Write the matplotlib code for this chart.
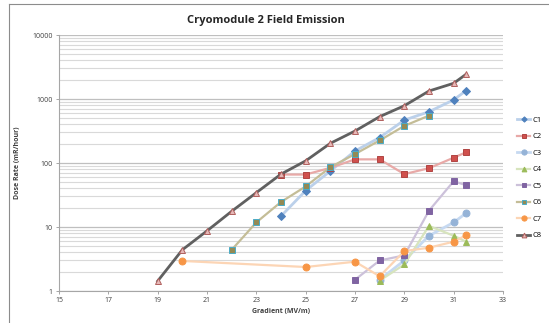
import matplotlib
matplotlib.use("Agg")
import matplotlib.pyplot as plt
from matplotlib.ticker import LogLocator, NullFormatter, FixedLocator

plt.rcParams['font.family'] = ['Open Sans', 'DejaVu Sans']

# gradient (MV/m) and dose rate (mR/hour) for each cavity
x_c1 = [24, 25, 26, 27, 28, 29, 30, 31, 31.5]
y_c1 = [14.8, 37, 75, 154, 250, 468, 633, 970, 1350]
x_c2 = [24, 25, 26, 27, 28, 29, 30, 31, 31.5]
y_c2 = [66, 66, 84, 114, 114, 67, 83, 121, 147]
x_c3 = [28, 29, 30, 31, 31.5]
y_c3 = [1.5, 3.0, 7.3, 11.8, 16.4]
x_c4 = [28, 29, 30, 31, 31.5]
y_c4 = [1.45, 2.6, 10.4, 7.3, 5.9]
x_c5 = [27, 28, 29, 30, 31, 31.5]
y_c5 = [1.5, 3.0, 3.6, 18, 52, 45]
x_c6 = [22, 23, 24, 25, 26, 27, 28, 29, 30]
y_c6 = [4.4, 11.8, 24.6, 43, 86, 138, 225, 380, 550]
x_c7 = [20, 25, 27, 28, 29, 30, 31, 31.5]
y_c7 = [2.95, 2.37, 2.87, 1.7, 4.2, 4.75, 5.9, 7.4]
x_c8 = [19, 20, 21, 22, 23, 24, 25, 26, 27, 28, 29, 30, 31, 31.5]
y_c8 = [1.43, 4.4, 8.7, 17.6, 34.4, 67, 108, 203, 316, 530, 785, 1333, 1760, 2430]

names = ["C1", "C2", "C3", "C4", "C5", "C6", "C7", "C8"]
xs = [x_c1, x_c2, x_c3, x_c4, x_c5, x_c6, x_c7, x_c8]
ys = [y_c1, y_c2, y_c3, y_c4, y_c5, y_c6, y_c7, y_c8]

# (line colour, marker, marker face, marker edge, line width)
styles = [
    ("#BBD0EA", "D", "#4F81BD", "#4F81BD", 2.0),
    ("#E8A9A7", "s", "#D0504D", "#B04442", 1.6),
    ("#C6D9F1", "o", "#95B3D7", "#95B3D7", 2.0),
    ("#D7E4BD", "^", "#9BBB59", "#9BBB59", 1.6),
    ("#CCC1DA", "s", "#8064A2", "#8064A2", 1.6),
    ("#C4BD97", "s", "#948A54", "#4BACC6", 1.6),
    ("#FCD5B5", "o", "#F79646", "#F79646", 1.6),
    ("#606060", "^", "#E6B9B8", "#B0605E", 2.0),
]
msizes = [3.6, 4.3, 5, 4.6, 4.3, 4.3, 5, 4.6]

fig = plt.figure(figsize=(5.49, 3.23), dpi=100)
ax = fig.add_axes([59 / 549, 1 - 291 / 323, 444 / 549, 256 / 323])

for i in range(len(names)):
    lc, mk, mf, me, lw = styles[i]
    ax.plot(xs[i], ys[i], color=lc, lw=lw, marker=mk, markersize=msizes[i],
            markerfacecolor=mf, markeredgecolor=me, markeredgewidth=0.7,
            label=names[i], zorder=3 + (i == 7))

ax.set_yscale("log")
ax.set_xlim(15, 33)
ax.set_ylim(1, 10000)
ax.xaxis.set_major_locator(FixedLocator(list(range(15, 34, 2))))
ax.yaxis.set_major_locator(LogLocator(base=10))
ax.yaxis.set_minor_locator(LogLocator(base=10, subs=range(2, 10)))
ax.yaxis.set_minor_formatter(NullFormatter())
ax.set_yticks([1, 10, 100, 1000, 10000])
ax.set_yticklabels(["1", "10", "100", "1000", "10000"])

ax.grid(True, which="major", axis="y", color="#BFBFBF", lw=0.9)
ax.grid(True, which="minor", axis="y", color="#D9D9D9", lw=0.8)
ax.set_axisbelow(True)
for s in ["top", "right"]:
    ax.spines[s].set_visible(False)
for s in ["left", "bottom"]:
    ax.spines[s].set_color("#A6A6A6")
    ax.spines[s].set_linewidth(0.8)
ax.tick_params(axis="both", which="major", labelsize=5, colors="#A6A6A6",
               labelcolor="#404040", length=2.5, width=0.7, pad=2)
ax.tick_params(axis="y", which="minor", length=0)

ax.set_xlabel("Gradient (MV/m)", fontsize=5, fontweight="bold", color="#404040", labelpad=3)
ax.set_ylabel("Dose Rate (mR/hour)", fontsize=5, fontweight="bold", color="#404040", labelpad=8)

fig.text(266 / 549, 1 - 20 / 323, "Cryomodule 2 Field Emission", ha="center", va="center",
         fontsize=8, fontweight="bold", color="#262626")

ax.legend(loc="center left", bbox_to_anchor=(514 / 549, 1 - 178 / 323),
          bbox_transform=fig.transFigure, frameon=False, fontsize=5.5,
          handlelength=1.7, handletextpad=0.3, labelspacing=1.2, borderaxespad=0,
          markerscale=0.75)

# chart frame (left and top edges visible)
fig.add_artist(plt.Line2D([9 / 549, 9 / 549], [0, 1 - 4 / 323], transform=fig.transFigure,
                          color="#8C8C8C", lw=0.8))
fig.add_artist(plt.Line2D([9 / 549, 1], [1 - 4 / 323, 1 - 4 / 323], transform=fig.transFigure,
                          color="#8C8C8C", lw=0.8))

fig.savefig("out.png", dpi=100)
